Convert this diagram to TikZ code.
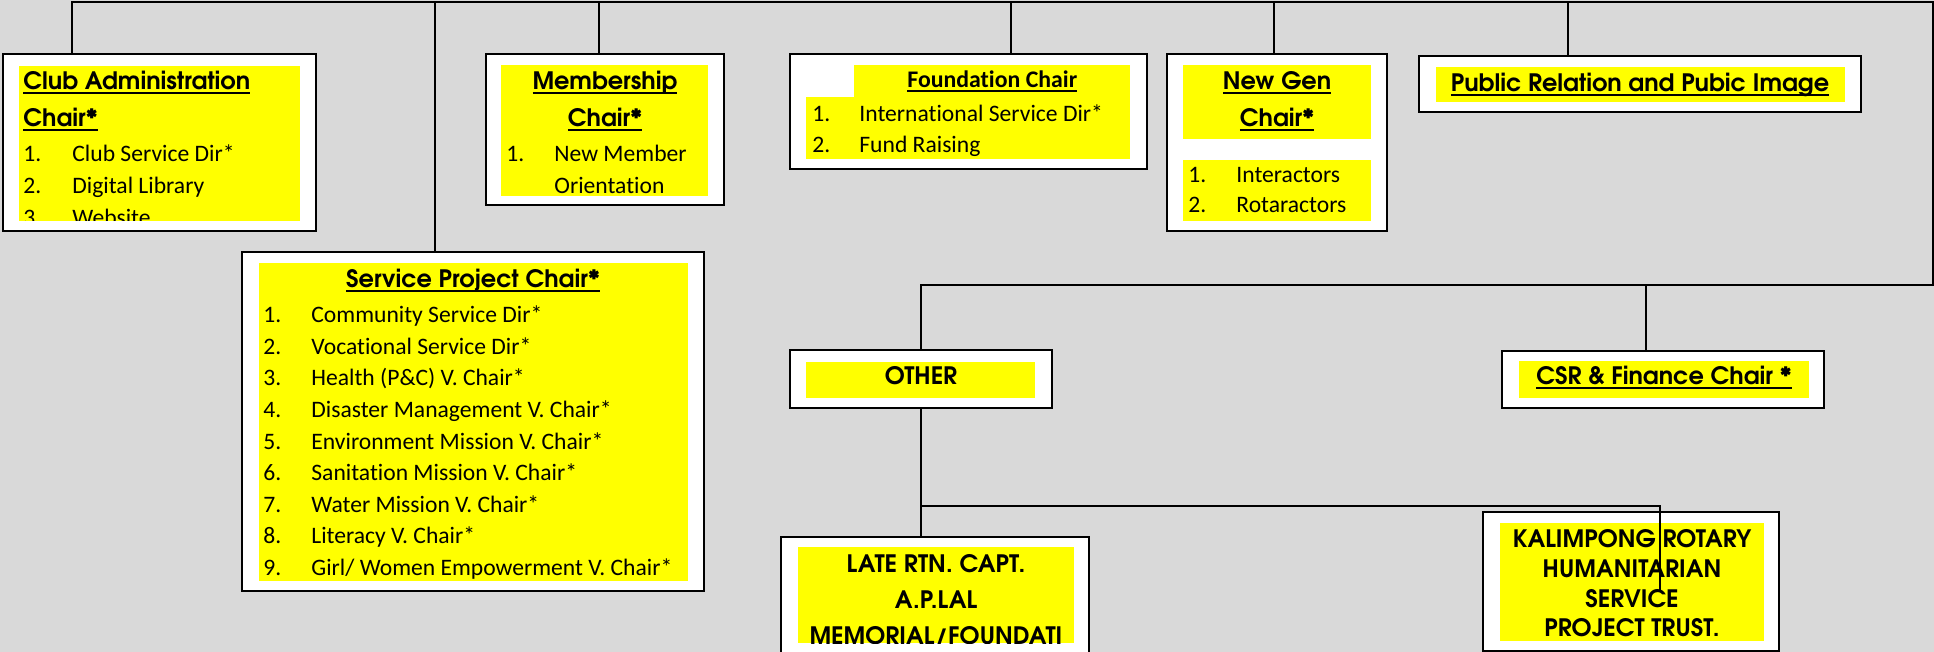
\documentclass[tikz,border=0pt]{standalone}
\usepackage{fontspec}
\setmainfont{Carlito}[Ligatures=NoCommon]
\newfontfamily\hdr{texgyreadventor}[Extension=.otf, UprightFont=*-regular, BoldFont=*-bold]
\usetikzlibrary{fit}
\definecolor{bg}{RGB}{217,217,217}
\definecolor{yel}{RGB}{255,255,0}
\newcommand\ulh[1]{\leavevmode\setbox0=\hbox{#1}\rlap{\rule[-1.9pt]{\wd0}{1pt}}\box0}
\tikzset{
  box/.style={draw=black, fill=white, line width=1.1pt, inner sep=0pt},
  ybox/.style={fill=yel, draw=none, inner sep=0pt},
  hd/.style={font=\hdr\bfseries\fontsize{12}{14}\selectfont, inner sep=0pt},
  fh/.style={font=\bfseries\fontsize{11.9}{14}\selectfont, inner sep=0pt},
  li/.style={font=\fontsize{11.8}{14}\selectfont, inner sep=0pt, anchor=base west},
  conn/.style={draw=black, line width=1.1pt},
}
\begin{document}
\begin{tikzpicture}[x=0.5pt,y=-0.5pt]
\useasboundingbox (0,0) rectangle (1934,652);
\fill[bg] (0,0) rectangle (1934,652);
\clip (0,0) rectangle (1934,652);

% ---------- boxes ----------
\node[box, fit={(3,54)(316,231)}] (club) {};
\node[ybox, fit={(19,66)(300,221)}] (clubY) {};
\node[box, fit={(486,54)(724,205)}] (memb) {};
\node[ybox, fit={(501,65)(708,196)}] (membY) {};
\node[box, fit={(790,54)(1147,169)}] (found) {};
\node[ybox, fit={(854,65)(1130,98)}] (foundYa) {};
\node[ybox, fit={(806,97)(1130,159)}] (foundYb) {};
\node[box, fit={(1167,54)(1387,231)}] (newgen) {};
\node[ybox, fit={(1183,65)(1371,139)}] (newgenYa) {};
\node[ybox, fit={(1183,160)(1371,221)}] (newgenYb) {};
\node[box, fit={(1419,56)(1861,112)}] (pr) {};
\node[ybox, fit={(1436,67)(1845,102)}] (prY) {};
\node[box, fit={(242,252)(704,591)}] (sp) {};
\node[ybox, fit={(259,263)(688,581)}] (spY) {};
\node[box, fit={(790,350)(1052,408)}] (other) {};
\node[ybox, fit={(806,362)(1035,398)}] (otherY) {};
\node[box, fit={(1502,351)(1824,408)}] (csr) {};
\node[ybox, fit={(1519,361)(1809,398)}] (csrY) {};
\node[box, fit={(781,537)(1089,670)}] (late) {};
\node[ybox, fit={(798,547)(1074,643)}] (lateY) {};
\node[box, fit={(1483,512)(1779,651)}] (kal) {};
\node[ybox, fit={(1500,523)(1764,641)}] (kalY) {};

% ---------- connectors ----------
\coordinate (tl) at (72,2);
\coordinate (tr) at (1933,2);
\coordinate (hy) at (1933,285);
\coordinate (dsp) at (435,2);
\coordinate (dmemb) at (599,2);
\coordinate (dfound) at (1011,2);
\coordinate (dnew) at (1274,2);
\coordinate (dpr) at (1568,2);
\coordinate (dcsr) at (1646,285);
\coordinate (kj) at (1660,506);
\coordinate (kend) at (1660,590);

\draw[conn] (tl |- club.north) -- (tl) -- (tr) -- (hy) -- (hy -| other.north) -- (other.north);
\draw[conn] (dsp) -- (dsp |- sp.north);
\draw[conn] (dmemb) -- (dmemb |- memb.north);
\draw[conn] (dfound) -- (dfound |- found.north);
\draw[conn] (dnew) -- (dnew |- newgen.north);
\draw[conn] (dpr) -- (dpr |- pr.north);
\draw[conn] (dcsr) -- (dcsr |- csr.north);
\draw[conn] (other.south) -- (other.south |- late.north);
\draw[conn] (other.south |- kj) -- (kj) -- (kend);

% ---------- texts ----------
\begin{scope}
\clip (19,66) rectangle (300,221);
\node[hd, anchor=base west] (clubh1) at (23,90) {\ulh{Club Administration}};
\node[hd, anchor=base west] (clubh2) at (23,127) {\ulh{Chair*}};
\node[li] (clubn1) at (23,162) {1.};
\node[li] (clubt1) at (72,162) {Club Service Dir*};
\node[li] (clubn2) at (23,194) {2.};
\node[li] (clubt2) at (72,194) {Digital Library};
\node[li] (clubn3) at (23,226) {3.};
\node[li] (clubt3) at (72,226) {Website};
\end{scope}

\node[hd, anchor=base] (membh1) at (605,90) {\ulh{Membership}};
\node[hd, anchor=base] (membh2) at (605,127) {\ulh{Chair*}};
\node[li] (membn1) at (506,162) {1.};
\node[li] (membt1) at (554,162) {New Member};
\node[li] (membt1b) at (554,194) {Orientation};

\node[fh, anchor=base west] (foundh) at (907,88) {\ulh{Foundation Chair}};
\node[li] (foundn1) at (812,122) {1.};
\node[li] (foundt1) at (859,122) {International Service Dir*};
\node[li] (foundn2) at (812,153) {2.};
\node[li] (foundt2) at (859,153) {Fund Raising};

\node[hd, anchor=base] (newh1) at (1277,90) {\ulh{New Gen}};
\node[hd, anchor=base] (newh2) at (1277,127) {\ulh{Chair*}};
\node[li] (newn1) at (1188,183) {1.};
\node[li] (newt1) at (1236,183) {Interactors};
\node[li] (newn2) at (1188,213) {2.};
\node[li] (newt2) at (1236,213) {Rotaractors};

\node[hd, anchor=base] (prh) at (1640,92) {\ulh{Public Relation and Pubic Image}};

\node[hd, anchor=base] (sph) at (473,288) {\ulh{Service Project Chair*}};
\foreach \t [count=\i] in {{Community Service Dir*},{Vocational Service Dir*},{Health (P\&C) V. Chair*},{Disaster Management V. Chair*},{Environment Mission V. Chair*},{Sanitation Mission V. Chair*},{Water Mission V. Chair*},{Literacy V. Chair*},{Girl/ Women Empowerment V. Chair*}}{
  \node[li] (spn\i) at (263,{323+31.5*(\i-1)}) {\i.};
  \node[li] (spt\i) at (311,{323+31.5*(\i-1)}) {\t};
}

\node[hd, anchor=base] (otherh) at (921,385) {OTHER};
\node[hd, anchor=base] (csrh) at (1664,385) {\ulh{CSR \& Finance Chair *}};

\begin{scope}
\clip (798,547) rectangle (1074,643);
\node[hd, anchor=base] (late1) at (936,572) {LATE RTN. CAPT.};
\node[hd, anchor=base] (late2) at (936,608) {A.P.LAL};
\node[hd, anchor=base] (late3) at (936,644) {MEMORIAL/FOUNDATI};
\end{scope}

\node[hd, anchor=base] (kal1) at (1632,547) {KALIMPONG ROTARY};
\node[hd, anchor=base] (kal2) at (1632,577) {HUMANITARIAN};
\node[hd, anchor=base] (kal3) at (1632,607) {SERVICE};
\node[hd, anchor=base] (kal4) at (1632,636) {PROJECT TRUST.};

% connector over the trust box
\draw[conn] (kj) -- (kend);
\end{tikzpicture}
\end{document}
